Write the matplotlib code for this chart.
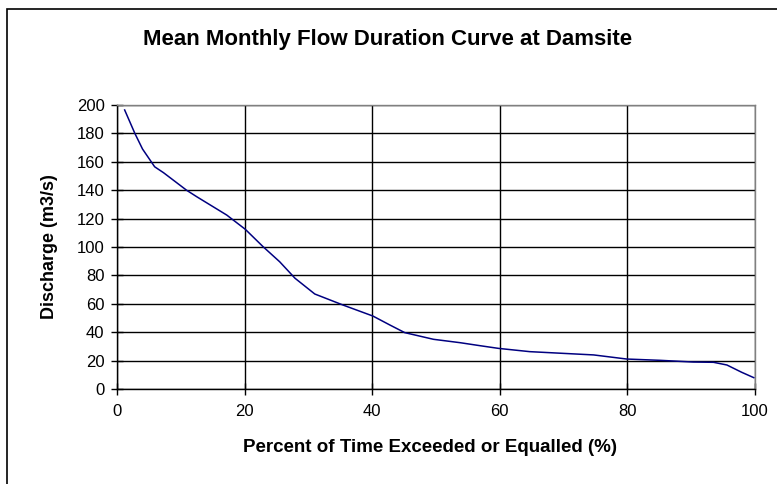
import matplotlib
matplotlib.use('Agg')
import matplotlib.pyplot as plt
from matplotlib.patches import Rectangle

plt.rcParams['font.family'] = ['Liberation Sans', 'DejaVu Sans']

# Flow duration curve
percentExceeded = [1.2, 2.8, 4.0, 5.9, 7.3, 10.9, 12.5, 17.2, 20.1, 22.9, 25.5, 27.9,
                   31.0, 35.5, 40.1, 42.8, 45.1, 49.6, 53.8, 56.9, 59.8, 64.7, 74.7,
                   79.9, 85.1, 90.3, 93.5, 95.6, 97.9, 99.8]
discharge = [196.5, 180, 169, 156.5, 152.3, 140, 135.4, 122.5, 112.5, 100.2, 89.6, 78,
             66.9, 59, 51.4, 45, 39.7, 35, 32.6, 30.5, 28.6, 26.3, 24, 21.1, 20.2, 19,
             18.8, 16.9, 11.8, 8]

xTicks = [0, 20, 40, 60, 80, 100]
yTicks = list(range(0, 201, 20))

fig = plt.figure(figsize=(7.77, 4.84), dpi=100)
ax = fig.add_axes([117 / 777, 1 - 389 / 484, 638 / 777, 284 / 484])

# outer chart frame (right and bottom edges are cut off in the reference)
fig.patches.append(Rectangle((7 / 777, -0.1), 1.2, 1 - 9 / 484 + 0.1,
                             transform=fig.transFigure, fill=False,
                             edgecolor='black', linewidth=1.2))

ax.plot(percentExceeded, discharge, color='#000080', linewidth=1.1, zorder=3)

ax.set_xlim(0, 100)
ax.set_ylim(0, 200)
ax.set_xticks(xTicks)
ax.set_yticks(yTicks)
ax.grid(True, color='black', linewidth=1.0)
ax.set_axisbelow(True)

ax.spines['left'].set_color('black')
ax.spines['bottom'].set_color('black')
ax.spines['top'].set_color('#808080')
ax.spines['right'].set_color('#808080')
for s in ax.spines.values():
    s.set_linewidth(1.0)

ax.tick_params(axis='both', direction='inout', length=8, width=1.0,
               labelsize=12, color='black')
ax.tick_params(axis='x', pad=7)
ax.tick_params(axis='y', pad=5)

ax.set_xlabel('Percent of Time Exceeded or Equalled (%)', fontsize=13.5,
              fontweight='bold', va='center')
ax.xaxis.set_label_coords(0.49, (389 - 447) / 284)
ax.set_ylabel('Discharge (m3/s)', fontsize=13, fontweight='bold', va='center')
ax.yaxis.set_label_coords((49 - 117) / 638, 0.5)

fig.text(388 / 777, 1 - 40 / 484, 'Mean Monthly Flow Duration Curve at Damsite',
         ha='center', va='center', fontsize=16, fontweight='bold')

fig.savefig('out.png', dpi=100)
